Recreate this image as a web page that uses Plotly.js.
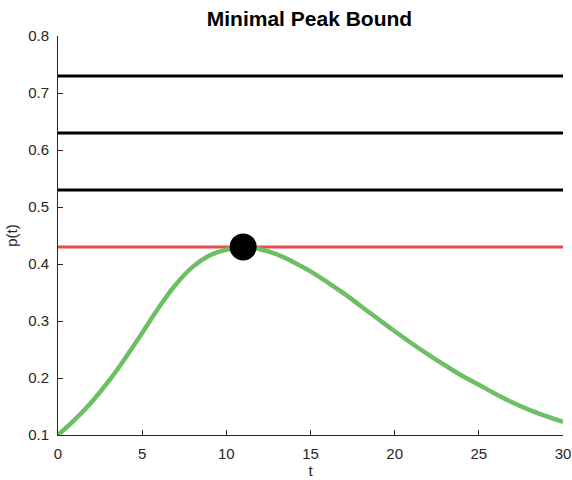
<!DOCTYPE html>
<html>
<head>
<meta charset="utf-8">
<script src="https://cdn.plot.ly/plotly-3.0.1.min.js"></script>
<style>html,body{margin:0;padding:0;background:#fff;}#chart{width:572px;height:480px;}</style>
</head>
<body>
<div id="chart"></div>
<script>
// Curve p(t)
const t = [0,1,2,3,4,5,6,7,8,9,10,11,12,13,14,15,16,17,18,19,20,21,22,23,24,25,26,27,28,29,30];
const p = [0.100,0.127,0.158,0.194,0.235,0.279,0.324,0.364,0.395,0.415,0.425,0.430,0.426,0.417,0.403,0.387,0.368,0.348,0.326,0.304,0.282,0.261,0.241,0.222,0.204,0.188,0.172,0.157,0.144,0.133,0.123];
// Horizontal bounds
const tSpan = [0, 30];
const peakBound = 0.43;
const otherBounds = [0.53, 0.63, 0.73];
// Peak point
const peakT = [11];
const peakP = [0.43];

const traces = [];
otherBounds.forEach(b => {
  traces.push({x: tSpan, y: [b, b], mode: 'lines', line: {color: '#000000', width: 3}});
});
traces.push({x: tSpan, y: [peakBound, peakBound], mode: 'lines', line: {color: '#e84a4f', width: 3}});
traces.push({x: t, y: p, mode: 'lines', line: {color: '#6dbf63', width: 4.5, shape: 'spline', smoothing: 1.2}});
traces.push({x: peakT, y: peakP, mode: 'markers', marker: {color: '#000000', size: 27}});

const axisFont = {family: 'Liberation Sans, Arial, sans-serif', size: 15, color: '#262626'};
const layout = {
  width: 572, height: 480,
  margin: {l: 58, r: 9, t: 36, b: 45},
  showlegend: false,
  paper_bgcolor: '#ffffff', plot_bgcolor: '#ffffff',
  title: {text: '<b>Minimal Peak Bound</b>', x: 0.541, xanchor: 'center', y: 0.962, yanchor: 'middle',
          font: {family: 'Liberation Sans, Arial, sans-serif', size: 21, color: '#000000'}},
  xaxis: {range: [0, 30], tickvals: [0,5,10,15,20,25,30], ticks: 'inside', ticklen: 5, tickcolor: '#262626',
          showline: true, linecolor: '#262626', linewidth: 1, showgrid: false, zeroline: false,
          ticklabelstandoff: 5,
          tickfont: axisFont, title: {text: 't', font: axisFont, standoff: 3}},
  yaxis: {range: [0.1, 0.8], tickvals: [0.1,0.2,0.3,0.4,0.5,0.6,0.7,0.8], ticktext: ['0.1','0.2','0.3','0.4','0.5','0.6','0.7','0.8'],
          ticks: 'inside', ticklen: 5, tickcolor: '#262626',
          showline: true, linecolor: '#262626', linewidth: 1, showgrid: false, zeroline: false,
          ticklabelstandoff: 5,
          tickfont: axisFont, title: {text: 'p(t)', font: axisFont, standoff: 6}}
};
Plotly.newPlot('chart', traces, layout, {displayModeBar: false, staticPlot: true});
</script>
</body>
</html>
